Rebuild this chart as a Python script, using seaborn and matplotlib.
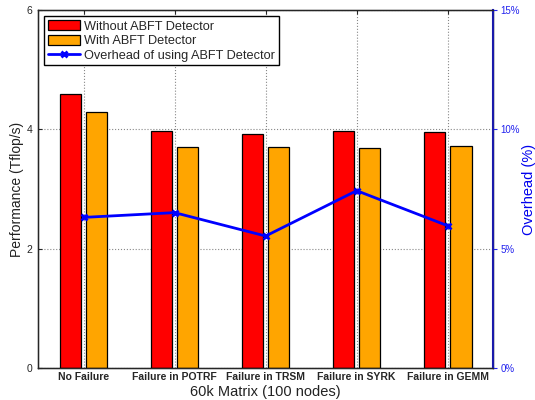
import pandas as pd
import matplotlib.pyplot as plt
import numpy as np
import seaborn as sns
from matplotlib.ticker import FuncFormatter

# values
categories = ['No Failure', 'Failure in POTRF', 'Failure in TRSM', 'Failure in SYRK', 'Failure in GEMM']
without_abft = [4.59, 3.97, 3.93, 3.98, 3.95]
with_abft = [4.29, 3.70, 3.70, 3.69, 3.72]
overhead = [6.31, 6.51, 5.53, 7.43, 5.96]
series_names = ['Without ABFT Detector', 'With ABFT Detector']
line_name = 'Overhead of using ABFT Detector'

sns.set_style('white')
plt.rcParams['font.family'] = ['Liberation Sans', 'DejaVu Sans']

df = pd.DataFrame({
        'category': categories * 2,
        'series': [series_names[0]] * len(categories) + [series_names[1]] * len(categories),
        'value': without_abft + with_abft,
})

fig = plt.figure(figsize=(5.35, 4), dpi=100)
ax = fig.add_axes([0.071, 0.08, 0.851, 0.895])

sns.barplot(data=df, x='category', y='value', hue='series', hue_order=series_names,
            palette=['#ff0000', '#ffa500'], saturation=1, width=0.58, gap=0.2,
            edgecolor='black', linewidth=0.9, ax=ax)
bar_handles, bar_labels = ax.get_legend_handles_labels()
ax.get_legend().remove()

ax.set_xlim(-0.5, len(categories) - 0.5)
ax.set_ylim(0, 6)
ax.set_yticks([0, 2, 4, 6])
ax.set_xlabel('60k Matrix (100 nodes)', fontsize=10.5, labelpad=2, color='#222222')
ax.set_ylabel('Performance (Tflop/s)', fontsize=10, labelpad=2, color='#222222')
ax.tick_params(axis='x', labelsize=7.5, direction='in', top=True, length=3, pad=3)
for t in ax.get_xticklabels():
        t.set_fontweight('bold')
ax.tick_params(axis='y', labelsize=7.5, direction='in', length=3, pad=4)
ax.grid(True, linestyle=':', color='#888888', linewidth=0.8)
ax.set_axisbelow(True)
for s in ax.spines.values():
        s.set_color('black')
        s.set_linewidth(1.0)

ax2 = ax.twinx()
x_pos = np.arange(len(categories))
sns.lineplot(x=x_pos, y=overhead, ax=ax2, color='#0000ff', linewidth=2,
             marker='x', markersize=5, markeredgewidth=2, markeredgecolor='#0000ff',
             label=line_name, legend=False)
ax2.set_ylim(0, 15)
ax2.set_yticks([0, 5, 10, 15])
ax2.yaxis.set_major_formatter(FuncFormatter(lambda v, p: f'{int(v)}%'))
ax2.tick_params(axis='y', labelsize=7, colors='#2222ee', direction='out', length=3, pad=2)
ax2.set_ylabel('Overhead (%)', fontsize=10.5, color='#0000ee', labelpad=1.5)
ax2.spines['right'].set_color('#1a1aaa')
ax2.spines['right'].set_linewidth(1.5)
line_handles, line_labels = ax2.get_legend_handles_labels()

leg = ax.legend(bar_handles + line_handles, bar_labels + line_labels,
                loc='upper left', fontsize=9.2, fancybox=False, framealpha=1,
                edgecolor='black', borderaxespad=0.5, handlelength=2.5, handleheight=0.85,
                handletextpad=0.3, labelspacing=0.15, borderpad=0.3)
leg.get_frame().set_linewidth(1.0)
leg.set_zorder(10)

plt.savefig('out.png', dpi=100)
plt.close()
